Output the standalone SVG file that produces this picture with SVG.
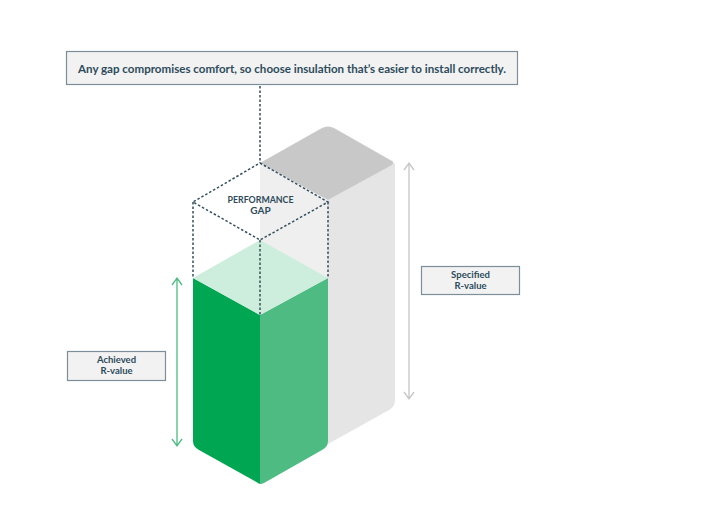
<svg xmlns="http://www.w3.org/2000/svg" width="704" height="528" viewBox="0 0 704 528">
<defs>
<style>
.box{fill:#f2f2f2;stroke:#7b8e99;stroke-width:1.2}
.lbl{font-family:Lato,"Liberation Sans",sans-serif;font-weight:700;fill:#2d4b5b;text-anchor:middle}
.dash{fill:none;stroke:#34505f;stroke-width:1.5;stroke-dasharray:2.5 2}
.arrG{fill:none;stroke:#4dbb82;stroke-width:1.3}
.arrS{fill:none;stroke:#c6c6c6;stroke-width:1.3}
</style>
</defs>
<rect width="704" height="528" fill="#ffffff"/>
<g id="specified-bar">
<path d="M260,163 L328,200 L328,444 L260,407 Z" fill="#efefef"/>
<path d="M328,200 L395,163 L395,400 Q395,407 389,410 L328,444 Z" fill="#e5e5e5"/>
<path d="M260,163 L322,128 Q328,125 334,128 L392,161 Q395,163 392,165 L328,200 Z" fill="#c8c8c8"/>
</g>
<g id="achieved-bar">
<path d="M193,278 L260,315 L260,484 L199,450 Q193,447 193,441 Z" fill="#00a651"/>
<path d="M260,315 L328,278 L328,441 Q328,447 322,450 L264,483 Q260,485 256,483 L260,484 Z" fill="#4dbb82"/>
<path d="M260,240 L328,278 L260,315 L193,278 Z" fill="#cdeedd"/>
</g>
<g id="performance-gap">
<path class="dash" d="M260,163 L328,202 L260,240 L193,202 Z M193,202 L193,278 M328,202 L328,278 M260,240 L260,315"/>
<text class="lbl" x="260.5" y="203" font-size="10" textLength="66" lengthAdjust="spacingAndGlyphs">PERFORMANCE</text>
<text class="lbl" x="260.5" y="213.5" font-size="10">GAP</text>
</g>
<g id="connectors">
<path class="dash" d="M260,86 L260,163"/>
<path class="arrG" d="M177,279 L177,445 M172,285 L177,278 L182,285 M172,439 L177,446 L182,439"/>
<path class="arrS" d="M409,164 L409,398 M404,170 L409,163 L414,170 M404,392 L409,399 L414,392"/>
</g>
<g id="callout">
<rect class="box" x="66.5" y="51.5" width="451" height="33"/>
<text class="lbl" x="292" y="72.5" font-size="12" textLength="428" lengthAdjust="spacingAndGlyphs">Any gap compromises comfort, so choose insulation that’s easier to install correctly.</text>
</g>
<g id="achieved-label">
<rect class="box" x="67.5" y="351.5" width="98" height="29"/>
<text class="lbl" x="116.5" y="363" font-size="9.5">Achieved</text>
<text class="lbl" x="116.5" y="374" font-size="9.5">R-value</text>
</g>
<g id="specified-label">
<rect class="box" x="421.5" y="266.5" width="98" height="28"/>
<text class="lbl" x="470.5" y="278" font-size="9.5">Specified</text>
<text class="lbl" x="470.5" y="289" font-size="9.5">R-value</text>
</g>
</svg>
